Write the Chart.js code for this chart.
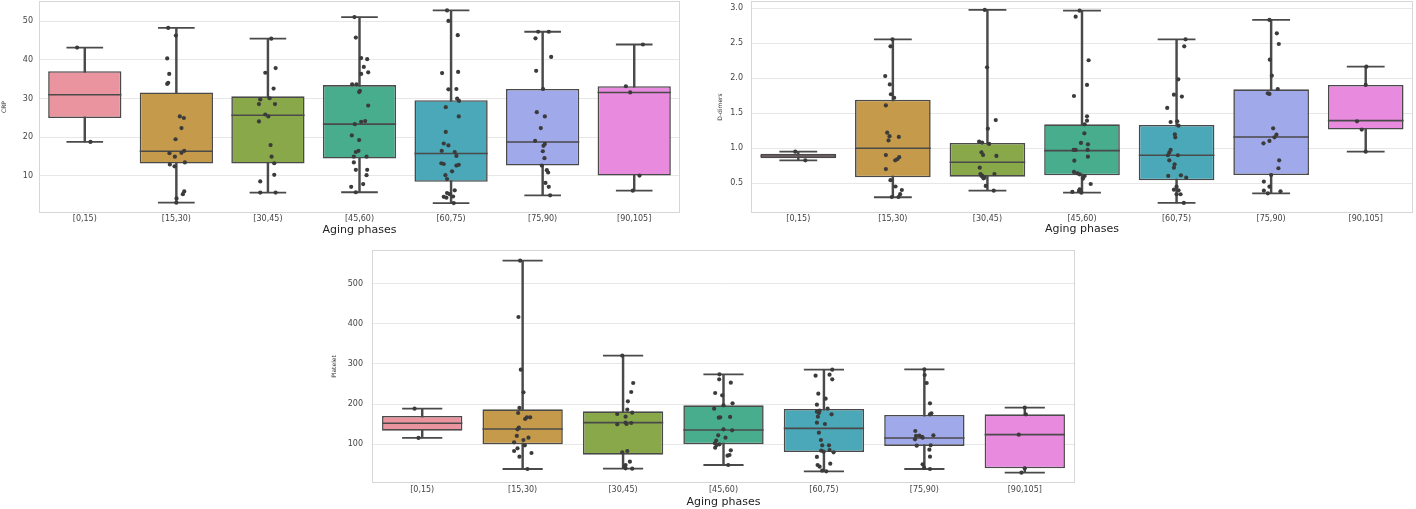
<!DOCTYPE html>
<html><head><meta charset="utf-8">
<script src="https://cdn.jsdelivr.net/npm/chart.js@4.4.0/dist/chart.umd.min.js"></script>
<style>
html,body{margin:0;padding:0;background:#fff;width:1416px;height:509px;overflow:hidden;position:relative;}
canvas{position:absolute;}
</style></head><body>
<canvas id="c1" width="690" height="242" style="left:0;top:0"></canvas>
<canvas id="c2" width="704" height="242" style="left:712px;top:0"></canvas>
<canvas id="c3" width="760" height="264" style="left:330px;top:245px"></canvas>
<script>
const categories = ['[0,15)','[15,30)','[30,45)','[45,60)','[60,75)','[75,90)','[90,105]'];
const xTitle = 'Aging phases';

// CRP
const crpTicks = [10,20,30,40,50];
const crpLow    = [18.8, 3.1, 5.7, 5.8, 3.0, 5.0, 6.2];
const crpQ1     = [25.0, 13.2, 13.2, 14.5, 8.5, 12.7, 10.1];
const crpMedian = [31.0, 16.4, 25.7, 23.4, 15.8, 18.8, 31.6];
const crpQ3     = [37.1, 31.6, 30.6, 33.5, 29.6, 32.5, 33.2];
const crpHigh   = [43.2, 48.3, 45.5, 51.1, 52.8, 47.3, 44.0];
const crpValues = [
  [43.2, 18.8],
  [48.3,46.3,40.4,36.4,34.1,33.8,25.4,25.0,22.4,19.5,15.9,16.5,16.0,15.0,13.5,13.0,12.5,6.0,5.3,4.2,3.1],
  [45.5,36.7,37.9,32.6,30.1,29.8,28.6,28.6,25.9,25.4,24.1,18.0,15.0,13.3,10.3,8.6,5.7,5.7],
  [51.1,45.8,40.5,40.2,38.2,36.4,36.8,33.7,33.7,32.0,31.7,28.2,24.0,24.2,23.4,20.5,19.3,16.5,16.2,15.0,15.0,13.5,11.6,11.6,10.2,7.9,7.2,5.8],
  [52.8,50.1,46.4,36.6,36.9,32.4,32.5,30.0,29.4,27.8,25.4,21.4,18.4,17.9,16.5,16.2,15.2,13.3,13.1,12.9,12.7,11.2,10.2,9.2,6.3,5.6,5.3,4.6,4.4,4.7,3.0],
  [47.3,47.3,45.6,40.8,37.2,32.5,26.5,25.4,22.4,19.1,18.3,17.8,16.4,14.6,12.7,11.5,10.9,8.2,7.2,5.0],
  [44.0,33.2,31.6,10.1,6.2]
];
const crpJitter = [
  [-0.084, 0.062],
  [-0.089,-0.005,-0.10,-0.078,-0.089,-0.10,0.038,0.082,0.056,-0.009,-0.075,0.086,0.056,-0.016,0.093,-0.071,-0.02,0.086,0.071,0.002,0.0],
  [0.036,-0.029,0.084,0.062,0.018,-0.084,-0.098,0.077,-0.029,0.004,-0.098,0.029,0.04,0.069,0.069,-0.084,-0.084,0.084],
  [-0.055,-0.04,0.018,0.084,0.047,0.018,0.095,-0.08,-0.033,0.004,-0.004,0.095,0.018,0.062,-0.051,-0.084,-0.004,-0.011,-0.04,-0.062,0.077,-0.062,-0.04,0.084,0.077,0.04,-0.091,-0.04],
  [-0.044,-0.029,0.073,-0.098,0.077,-0.029,0.058,0.066,0.087,-0.058,0.084,-0.058,-0.08,-0.029,-0.102,0.04,0.058,-0.106,-0.08,0.084,0.058,0.011,-0.062,-0.044,0.04,-0.044,-0.015,-0.08,-0.051,0.022,0.029],
  [-0.049,0.067,-0.078,0.093,-0.071,0.005,-0.064,0.024,-0.02,-0.082,0.024,0.009,0.002,0.02,-0.009,0.046,0.06,0.031,0.067,0.082],
  [0.095,-0.091,-0.044,0.058,-0.015]
];

// D-dimers
const ddTicks = [0.5,1.0,1.5,2.0,2.5,3.0];
const ddLow    = [0.825, 0.296, 0.391, 0.362, 0.215, 0.353, 0.949];
const ddQ1     = [0.856, 0.582, 0.591, 0.610, 0.539, 0.615, 1.264];
const ddMedian = [0.887, 0.997, 0.796, 0.963, 0.897, 1.159, 1.392];
const ddQ3     = [0.918, 1.693, 1.073, 1.340, 1.330, 1.841, 1.903];
const ddHigh   = [0.949, 2.556, 2.976, 2.966, 2.556, 2.833, 2.165];
const ddValues = [
  [0.949, 0.825],
  [2.556,2.456,2.03,1.91,1.77,1.72,1.61,1.22,1.17,1.16,1.11,0.90,0.87,0.84,0.825,0.70,0.54,0.45,0.40,0.34,0.30,0.30],
  [2.976,2.155,1.40,1.278,1.092,1.078,1.059,0.939,0.901,0.887,0.720,0.629,0.629,0.601,0.577,0.567,0.606,0.458,0.391],
  [2.966,2.88,2.256,1.903,1.745,1.454,1.392,1.34,1.211,1.073,1.054,0.973,0.973,0.973,0.877,0.820,0.658,0.639,0.625,0.563,0.60,0.486,0.41,0.386,0.372,0.362],
  [2.556,2.456,1.984,1.764,1.736,1.574,1.373,1.383,1.321,1.197,1.154,0.973,0.935,0.897,0.897,0.825,0.768,0.720,0.601,0.610,0.577,0.448,0.405,0.396,0.339,0.339,0.215],
  [2.833,2.642,2.489,2.265,2.036,1.845,1.783,1.774,1.283,1.192,1.154,1.102,1.068,0.825,0.711,0.615,0.520,0.448,0.391,0.381,0.353],
  [2.165,1.903,1.383,1.264,0.949]
];
const ddJitter = [
  [-0.032, 0.074],
  [-0.004,-0.025,-0.081,-0.032,-0.021,0.014,-0.074,-0.06,-0.035,0.063,-0.046,-0.074,0.067,0.046,0.025,-0.074,-0.025,0.028,0.095,0.077,-0.011,0.06],
  [-0.028,-0.004,0.088,0.004,-0.088,-0.056,0.018,-0.063,-0.046,0.095,-0.081,-0.074,0.074,-0.063,-0.032,-0.042,-0.056,-0.018,0.067],
  [-0.025,-0.067,0.07,0.053,-0.085,0.053,0.053,0.028,0.025,-0.011,0.063,-0.088,-0.067,0.06,0.063,-0.081,-0.085,-0.049,-0.025,0.011,0.028,0.092,-0.025,-0.032,-0.102,-0.007],
  [0.095,0.081,0.018,-0.028,0.056,-0.099,-0.063,0.007,0.021,-0.018,-0.014,-0.063,-0.077,-0.092,0.014,-0.077,-0.021,-0.028,-0.088,0.046,0.102,0,-0.028,0.021,0,0.042,0.077],
  [-0.018,0.06,0.081,-0.014,0.007,0.07,-0.035,-0.018,0.021,0.056,0.035,-0.018,-0.081,0.085,0.077,0,-0.077,-0.018,-0.077,0.099,-0.035],
  [0.007,0,-0.092,-0.042,0]
];

// Platelet
const plTicks = [100,200,300,400,500];
const plLow    = [115.8, 38.6, 39.4, 48.5, 32.8, 38.6, 29.5];
const plQ1     = [134.0, 100.0, 74.3, 100.0, 80.9, 95.9, 40.2];
const plMedian = [152.3, 138.2, 154.0, 135.7, 139.8, 115.8, 124.1];
const plQ3     = [170.5, 187.1, 182.2, 197.1, 188.0, 173.0, 174.7];
const plHigh   = [188.8, 557.3, 320.7, 274.3, 285.9, 286.7, 191.3];
const plValues = [
  [188.8, 115.8],
  [557.3,417,285.9,229.5,190.5,178,167.2,163.1,167.2,141.5,137.3,116.6,120.8,110.8,105,90,83.4,78.4,69.3,97.5,38.6],
  [320.7,252.7,230.3,207.1,186.3,178.8,175.5,168.9,149.8,154,153.1,150.6,83.4,80.1,56.8,48.5,44.4,39.4,40.2],
  [274.3,261.8,253.5,227.8,221.9,197.1,202,188.8,167.2,166.4,168.1,137.3,134.9,122.4,116.6,109.1,102.5,100,98.3,91.7,85.1,73.4,71.8,48.5],
  [285.9,271,273.4,261.8,226,213.7,198.8,188.8,183.8,181.3,178,174.7,168.9,154,150.6,129,110.8,97.5,97.5,84.2,81.7,85.9,80.1,68.5,51.9,48.5,44.4,34.4,32.8],
  [286.7,272.6,252.7,202,177.2,174.7,133.2,120.8,121.6,118.3,122.4,112.5,116.6,96.7,97.5,86.7,69.3,50.2,38.6,41.9],
  [191.3,174.7,124.1,40.2,29.5]
];
const plJitter = [
  [-0.076,-0.037],
  [-0.025,-0.042,-0.018,0.008,-0.032,-0.045,0.075,0.025,0.042,-0.038,-0.051,0.058,-0.058,0.008,-0.085,-0.051,-0.085,0.088,-0.032,0.022,0.048],
  [-0.008,0.101,0.081,0.048,0.042,0.091,-0.058,0.025,-0.058,0.025,0.081,0.035,0.042,-0.008,0.068,0.025,0.015,0.091,0.025],
  [-0.04,-0.043,0.073,-0.083,-0.013,0,0.09,-0.093,-0.033,-0.047,0.066,0,0.086,-0.053,0.02,-0.073,-0.086,-0.04,-0.066,-0.083,0.073,0.06,0.04,0.047],
  [0.083,-0.083,0.056,0.083,-0.056,0.017,-0.07,0.037,-0.043,-0.07,-0.05,0.076,-0.06,-0.07,0.01,-0.05,-0.03,-0.017,0.05,-0.027,-0.003,0.056,0.096,-0.07,0.063,-0.063,-0.043,-0.017,0.023],
  [0,0.003,0.023,0.056,0.07,0.056,-0.09,-0.083,-0.05,-0.023,0.09,-0.093,-0.017,-0.076,0.063,0.05,0.056,-0.017,0.056,-0.003],
  [0,0.01,-0.06,0,-0.033]
];

const palette = ['#E9949F','#C59A4B','#88A84A','#47AD8D','#4AA8B8','#A0A9EA','#E88ADD'];
const lineGray = '#4a4a4a';
const pointColor = '#3b3b3b';
const FONT = "'DejaVu Sans', sans-serif";

const framePlugin = {
  id: 'frame',
  beforeDatasetsDraw(chart) {
    const a = chart.chartArea, c = chart.ctx;
    c.save();
    c.strokeStyle = '#d6d6d6';
    c.lineWidth = 1;
    c.strokeRect(Math.round(a.left) + 0.5, Math.round(a.top) + 0.5, Math.round(a.right - a.left) - 1, Math.round(a.bottom - a.top) - 1);
    c.restore();
  }
};

function unitPx(chart, u) {
  const x = chart.scales.x;
  return Math.abs(x.getPixelForValue(u) - x.getPixelForValue(0));
}

function makeChart(id, s) {
  const pts = [];
  s.values.forEach((arr, i) => arr.forEach((v, k) => pts.push({x: i + s.jitter[i][k], y: v})));
  new Chart(document.getElementById(id), {
    type: 'bar',
    data: {
      datasets: [
        { type: 'scatter', data: pts, pointRadius: 2.1, pointBackgroundColor: pointColor, pointBorderWidth: 0 },
        { type: 'scatter', data: s.median.map((v, i) => ({x: i, y: v})), pointStyle: 'line',
          pointRadius: ctx => unitPx(ctx.chart, 0.4), pointBorderColor: lineGray, pointBorderWidth: 1.6 },
        { type: 'scatter', data: s.low.map((v, i) => ({x: i, y: v})).concat(s.high.map((v, i) => ({x: i, y: v}))), pointStyle: 'line',
          pointRadius: ctx => unitPx(ctx.chart, 0.2), pointBorderColor: lineGray, pointBorderWidth: 1.8 },
        { type: 'bar', data: s.q1.map((v, i) => ({x: i, y: [v, s.q3[i]]})), backgroundColor: palette,
          borderColor: lineGray, borderWidth: 1.6, borderSkipped: false, grouped: false, barPercentage: 0.8, categoryPercentage: 1.0 },
        { type: 'bar', data: s.low.map((v, i) => ({x: i, y: [v, s.high[i]]})), backgroundColor: lineGray,
          borderWidth: 0, grouped: false, barThickness: 1.8 }
      ]
    },
    options: {
      responsive: false, animation: false, events: [],
      layout: { padding: s.pad, autoPadding: false },
      plugins: { legend: { display: false }, tooltip: { enabled: false } },
      scales: {
        x: {
          type: 'linear', min: -0.5, max: 6.5, offset: false,
          grid: { display: false, offset: false, drawTicks: false },
          border: { display: false },
          afterBuildTicks: sc => { sc.ticks = categories.map((c, i) => ({value: i})); },
          afterFit: sc => { sc.height = s.xh; sc.paddingLeft = 0; sc.paddingRight = 0; },
          ticks: { autoSkip: false, maxRotation: 0, padding: s.xtp, color: '#444', font: { family: FONT, size: 8 },
                   callback: (v, i) => categories[i] },
          title: { display: true, text: xTitle, color: '#222', font: { family: FONT, size: 11 }, padding: { top: 0, bottom: s.xtb } }
        },
        y: {
          type: 'linear', min: s.min, max: s.max, beginAtZero: false,
          grid: { color: '#e7e7e7', lineWidth: 1, drawTicks: false },
          border: { display: false },
          afterBuildTicks: sc => { sc.ticks = s.ticks.map(v => ({value: v})); },
          afterFit: sc => { sc.width = s.yw; sc.paddingTop = 0; sc.paddingBottom = 0; },
          ticks: { padding: s.ytp, color: '#444', font: { family: FONT, size: 8 }, callback: s.fmt },
          title: { display: true, text: s.ytitle, color: '#333', font: { family: FONT, size: 6 }, padding: { top: s.ytt, bottom: 0 } }
        }
      }
    },
    plugins: [framePlugin]
  });
}

makeChart('c1', { values: crpValues, jitter: crpJitter, low: crpLow, q1: crpQ1, median: crpMedian, q3: crpQ3, high: crpHigh,
  ticks: crpTicks, min: 0.43, max: 55.25, fmt: v => String(v), ytitle: 'CRP',
  pad: { left: 0, right: 10, top: 1, bottom: 0 }, yw: 39, xh: 29, xtp: 1, xtb: 5, ytp: 6, ytt: 1 });

makeChart('c2', { values: ddValues, jitter: ddJitter, low: ddLow, q1: ddQ1, median: ddMedian, q3: ddQ3, high: ddHigh,
  ticks: ddTicks, min: 0.071, max: 3.104, fmt: v => Number(v).toFixed(1), ytitle: 'D-dimers',
  pad: { left: 0, right: 3, top: 1, bottom: 0 }, yw: 39, xh: 29, xtp: 1, xtb: 6, ytp: 8, ytt: 5 });

makeChart('c3', { values: plValues, jitter: plJitter, low: plLow, q1: plQ1, median: plMedian, q3: plQ3, high: plHigh,
  ticks: plTicks, min: 3.7, max: 583.8, fmt: v => String(v), ytitle: 'Platelet',
  pad: { left: 0, right: 15, top: 5, bottom: 0 }, yw: 42, xh: 26, xtp: 2, xtb: 0, ytp: 9, ytt: 1 });
</script>
</body></html>
